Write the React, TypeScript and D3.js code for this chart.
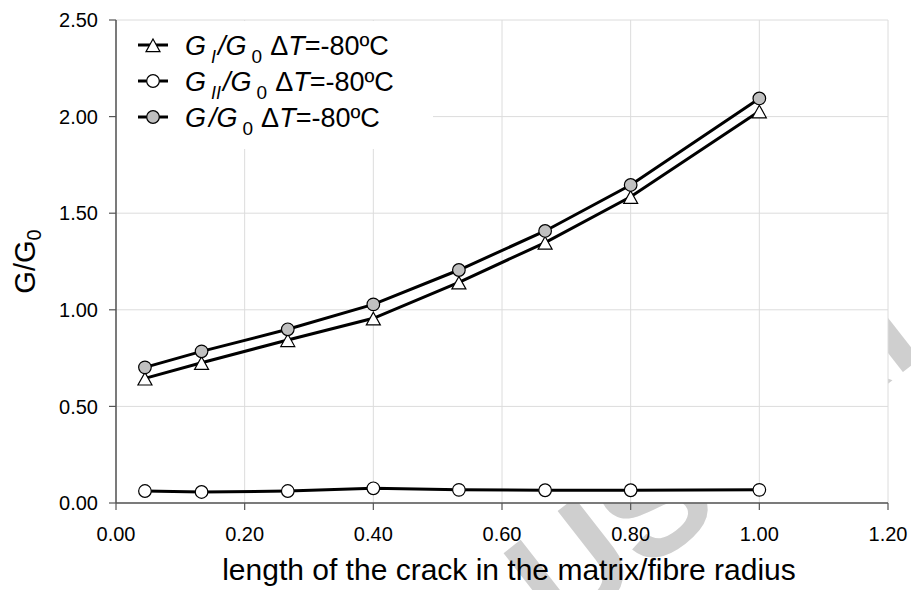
import React from "react";
import * as d3 from "d3";

const crackLength = [0.045, 0.133, 0.267, 0.4, 0.533, 0.667, 0.8, 1.0];
const gI = [0.645, 0.726, 0.844, 0.956, 1.142, 1.348, 1.585, 2.028];
const gII = [0.062, 0.057, 0.062, 0.076, 0.068, 0.066, 0.066, 0.068];
const gTotal = [0.702, 0.785, 0.899, 1.028, 1.206, 1.408, 1.646, 2.094];
const xTicks = [0, 0.2, 0.4, 0.6, 0.8, 1.0, 1.2];
const yTicks = [0, 0.5, 1.0, 1.5, 2.0, 2.5];
const legendSubs = ["I", "II", ""];
const legendMarkers = ["tri", "open", "grey"];

const W = 911;
const H = 590;
const m = { left: 116, right: 888, top: 20, bottom: 503 };
const FONT = "Arial, 'Liberation Sans', Helvetica, sans-serif";

export default function App() {
  const x = d3.scaleLinear().domain([0, 1.2]).range([m.left, m.right]);
  const y = d3.scaleLinear().domain([0, 2.5]).range([m.bottom, m.top]);
  const line = d3
    .line<[number, number]>()
    .x((d) => x(d[0]))
    .y((d) => y(d[1]));
  const pts = (vals: number[]) => crackLength.map((c, i) => [c, vals[i]] as [number, number]);

  const tri = (cx: number, cy: number, s = 7) =>
    `M${cx},${cy - s} L${cx + s},${cy + s * 0.8} L${cx - s},${cy + s * 0.8} Z`;

  const drawMarker = (kind: string, cx: number, cy: number, key?: any) => {
    if (kind === "tri")
      return <path key={key} d={tri(cx, cy + 1)} fill="#fff" stroke="#000" strokeWidth={1.2} />;
    if (kind === "open")
      return <circle key={key} cx={cx} cy={cy} r={6.3} fill="#fff" stroke="#000" strokeWidth={1.2} />;
    return <circle key={key} cx={cx} cy={cy} r={6.3} fill="#c0c0c0" stroke="#000" strokeWidth={1.2} />;
  };

  return (
    <svg
      width={W}
      height={H}
      style={{ position: "absolute", left: 0, top: 0, background: "#fff" }}
      fontFamily={FONT}
    >
      {/* faint watermark (hidden by the plot area) */}
      <text
        x={0}
        y={0}
        transform="translate(560,640) rotate(-38)"
        fontSize={150}
        fontWeight="bold"
        fill="#cfcfcf"
      >
        USCRI
      </text>
      {/* plot area */}
      <rect x={m.left} y={m.top} width={m.right - m.left} height={m.bottom - m.top} fill="#fff" />
      {/* gridlines */}
      {xTicks.map((t) => (
        <line key={"gx" + t} x1={x(t)} x2={x(t)} y1={m.top} y2={m.bottom} stroke="#dcdcdc" strokeWidth={1} />
      ))}
      {yTicks.map((t) => (
        <line key={"gy" + t} x1={m.left} x2={m.right} y1={y(t)} y2={y(t)} stroke="#dcdcdc" strokeWidth={1} />
      ))}
      {/* legend background */}
      <rect x={m.left + 1} y={m.top + 1} width={316} height={128} fill="#fff" />
      {/* axes */}
      <line x1={m.left} x2={m.left} y1={m.top} y2={m.bottom} stroke="#555" strokeWidth={1.5} />
      <line x1={m.left} x2={m.right} y1={m.bottom} y2={m.bottom} stroke="#555" strokeWidth={1.5} />
      {yTicks.map((t) => (
        <g key={"ty" + t}>
          <line x1={m.left - 7} x2={m.left} y1={y(t)} y2={y(t)} stroke="#555" strokeWidth={1.2} />
          <text x={m.left - 18} y={y(t)} dy="0.36em" textAnchor="end" fontSize={20} fill="#000">
            {t.toFixed(2)}
          </text>
        </g>
      ))}
      {xTicks.map((t) => (
        <g key={"tx" + t}>
          <line x1={x(t)} x2={x(t)} y1={m.bottom} y2={m.bottom + 7} stroke="#555" strokeWidth={1.2} />
          <text x={x(t)} y={541} textAnchor="middle" fontSize={20} fill="#000">
            {t.toFixed(2)}
          </text>
        </g>
      ))}
      {/* axis titles */}
      <text x={509} y={580} textAnchor="middle" fontSize={30} fill="#000">
        length of the crack in the matrix/fibre radius
      </text>
      <text transform={`translate(35,${(m.top + m.bottom) / 2}) rotate(-90)`} textAnchor="middle" fontSize={29} fill="#000">
        <tspan>G/G</tspan>
        <tspan fontSize={20} dy={6}>0</tspan>
      </text>
      {/* series */}
      <path d={line(pts(gI)) || ""} fill="none" stroke="#000" strokeWidth={3} />
      <path d={line(pts(gII)) || ""} fill="none" stroke="#000" strokeWidth={3} />
      <path d={line(pts(gTotal)) || ""} fill="none" stroke="#000" strokeWidth={3} />
      {pts(gI).map((p, i) => drawMarker("tri", x(p[0]), y(p[1]), "a" + i))}
      {pts(gII).map((p, i) => drawMarker("open", x(p[0]), y(p[1]), "b" + i))}
      {pts(gTotal).map((p, i) => drawMarker("grey", x(p[0]), y(p[1]), "c" + i))}
      {/* legend */}
      {legendSubs.map((sub, i) => {
        const base = 55 + i * 36;
        const cy = base - 10;
        return (
          <g key={"lg" + i}>
            <line x1={138} x2={168} y1={cy} y2={cy} stroke="#000" strokeWidth={3} />
            {drawMarker(legendMarkers[i], 153, cy)}
            <text x={185} y={base} fontSize={27} fill="#000">
              <tspan fontStyle="italic">G</tspan>
              {sub ? (
                <tspan fontStyle="italic" fontSize={18} dx={5} dy={8}>{sub}</tspan>
              ) : null}
              <tspan fontStyle="italic" dx={sub ? 2 : 3} dy={sub ? -8 : 0}>/G</tspan>
              <tspan fontSize={19} dx={5} dy={8}>0</tspan>
              <tspan dx={8} dy={-8}>Δ</tspan>
              <tspan fontStyle="italic">T</tspan>
              <tspan>=-80ºC</tspan>
            </text>
          </g>
        );
      })}
    </svg>
  );
}
